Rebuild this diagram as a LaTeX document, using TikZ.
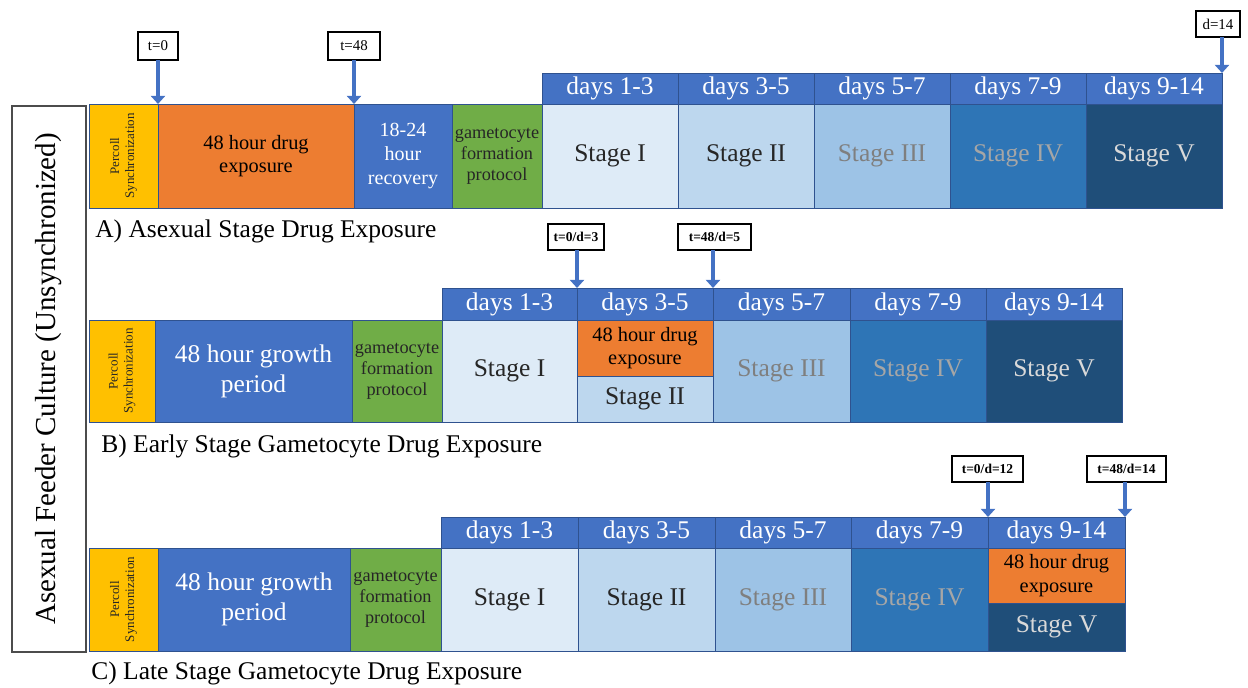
\documentclass[tikz,border=0pt]{standalone}
\usepackage{fontspec}
\setmainfont{Liberation Serif}
\usetikzlibrary{arrows.meta}
\definecolor{gold}{HTML}{FFC000}
\definecolor{drug}{HTML}{ED7D31}
\definecolor{blu}{HTML}{4472C4}
\definecolor{grn}{HTML}{70AD47}
\definecolor{stI}{HTML}{DEEBF7}
\definecolor{stII}{HTML}{BDD7EE}
\definecolor{stIII}{HTML}{9DC3E6}
\definecolor{stIV}{HTML}{2E75B6}
\definecolor{stV}{HTML}{1F4E79}
\definecolor{edge}{HTML}{2F528F}
\definecolor{txtdk}{HTML}{262626}
\definecolor{txtIII}{HTML}{7F7F7F}
\definecolor{txtIV}{HTML}{A6A6A6}
\definecolor{txtV}{HTML}{D9D9D9}

% box from its two corners (pixel units)
\newcommand{\cellat}[7]{%
  \node[cell, #6, minimum width={(#4-#2)*0.02cm}, minimum height={(#5-#3)*0.02cm}]
    (#1) at ({(#2+#4)/2},{(#3+#5)/2}) {#7};}

\tikzset{
  cell/.style={draw=edge, line width=0.5pt, inner sep=0pt, outer sep=0pt, align=center},
  big/.style={font=\fontsize{14.5}{17}\selectfont},
  head/.style={fill=blu, text=white, big},
  percoll/.style={fill=gold},
  perctxt/.style={rotate=90, align=center, text=txtdk, font=\fontsize{7.4}{8.5}\selectfont},
  drugbox/.style={fill=drug, text=black, font=\fontsize{11.6}{13.4}\selectfont},
  growbox/.style={fill=blu, text=white, font=\fontsize{14.5}{17}\selectfont},
  recbox/.style={fill=blu, text=white, font=\fontsize{11.4}{13.6}\selectfont},
  gambox/.style={fill=grn, text=txtdk, font=\fontsize{10.4}{12}\selectfont},
  tag/.style={cell, draw=black, line width=0.7pt, fill=white, font=\fontsize{8.5}{10}\selectfont},
  tagb/.style={tag, font=\fontsize{7.7}{9}\selectfont\bfseries},
  arr/.style={draw=blu, line width=2.6pt, -{Triangle[width=8pt,length=4.6pt]}},
  caption/.style={anchor=west, inner sep=0pt, font=\fontsize{14.5}{17}\selectfont}
}

\begin{document}
\begin{tikzpicture}[x=0.02cm, y=-0.02cm]
  \useasboundingbox (0,0) rectangle (1248,688);

  % feeder culture
  \node[cell, draw=black!70, line width=0.7pt, rotate=90, minimum width=546*0.02cm,
    minimum height=74*0.02cm, font=\fontsize{16.5}{18}\selectfont] (feed) at (49,379)
    {Asexual Feeder Culture (Unsynchronized)};

  % A) asexual stage
  \cellat{pA}{89}{104}{158}{208}{percoll}{}
  \node[perctxt] at (pA) {Percoll\\Synchronization};
  \cellat{drugA}{158}{104}{354}{208}{drugbox}{48 hour drug\\exposure}
  \cellat{recA}{354}{104}{452}{208}{recbox}{18-24\\hour\\recovery}
  \cellat{gamA}{452}{104}{542}{208}{gambox}{gametocyte\\formation\\protocol}
  \foreach \i/\xa/\xb/\d/\c/\tc/\s in {1/542/678/1-3/stI/txtdk/I, 2/678/814/3-5/stII/txtdk/II,
      3/814/950/5-7/stIII/txtIII/III, 4/950/1086/7-9/stIV/txtIV/IV, 5/1086/1222/9-14/stV/txtV/V} {
    \cellat{dA\i}{\xa}{73}{\xb}{104}{head}{days \d}
    \cellat{sA\i}{\xa}{104}{\xb}{208}{fill=\c, text=\tc, big}{Stage \s}
  }
  \cellat{tA0}{138}{32}{178}{60}{tag}{t=0}
  \cellat{tA48}{328}{32}{380}{60}{tag}{t=48}
  \cellat{tA14}{1196}{11}{1240}{37}{tag}{d=14}
  \draw[arr] (tA0.south -| pA.north east) -- (pA.north east);
  \draw[arr] (tA48.south -| drugA.north east) -- (drugA.north east);
  \draw[arr] (tA14.south -| dA5.north east) -- (dA5.north east);
  \node[caption] (capA) at (95,231) {A) Asexual Stage Drug Exposure};

  % B) early stage gametocytes
  \cellat{pB}{89}{320}{155}{422}{percoll}{}
  \node[perctxt] at (pB) {Percoll\\Synchronization};
  \cellat{growB}{155}{320}{352}{422}{growbox}{48 hour growth\\period}
  \cellat{gamB}{352}{320}{442}{422}{gambox}{gametocyte\\formation\\protocol}
  \foreach \i/\xa/\xb/\d in {1/442/577/1-3, 2/577/713/3-5, 3/713/850/5-7, 4/850/986/7-9, 5/986/1122/9-14} {
    \cellat{dB\i}{\xa}{288}{\xb}{320}{head}{days \d}
  }
  \cellat{sB1}{442}{320}{577}{422}{fill=stI, text=txtdk, big}{Stage I}
  \cellat{drugB}{577}{320}{713}{376}{drugbox}{48 hour drug\\exposure}
  \cellat{sB2}{577}{376}{713}{422}{fill=stII, text=txtdk, big}{Stage II}
  \cellat{sB3}{713}{320}{850}{422}{fill=stIII, text=txtIII, big}{Stage III}
  \cellat{sB4}{850}{320}{986}{422}{fill=stIV, text=txtIV, big}{Stage IV}
  \cellat{sB5}{986}{320}{1122}{422}{fill=stV, text=txtV, big}{Stage V}
  \cellat{tB0}{548}{224}{604}{250}{tagb}{t=0/d=3}
  \cellat{tB48}{678}{224}{751}{250}{tagb}{t=48/d=5}
  \draw[arr] (tB0.south -| dB1.north east) -- (dB1.north east);
  \draw[arr] (tB48.south -| dB2.north east) -- (dB2.north east);
  \node[caption] (capB) at (101,446) {B) Early Stage Gametocyte Drug Exposure};

  % C) late stage gametocytes
  \cellat{pC}{89}{548}{158}{651}{percoll}{}
  \node[perctxt] at (pC) {Percoll\\Synchronization};
  \cellat{growC}{158}{548}{350}{651}{growbox}{48 hour growth\\period}
  \cellat{gamC}{350}{548}{441}{651}{gambox}{gametocyte\\formation\\protocol}
  \foreach \i/\xa/\xb/\d in {1/441/578/1-3, 2/578/715/3-5, 3/715/851/5-7, 4/851/988/7-9, 5/988/1125/9-14} {
    \cellat{dC\i}{\xa}{517}{\xb}{548}{head}{days \d}
  }
  \cellat{sC1}{441}{548}{578}{651}{fill=stI, text=txtdk, big}{Stage I}
  \cellat{sC2}{578}{548}{715}{651}{fill=stII, text=txtdk, big}{Stage II}
  \cellat{sC3}{715}{548}{851}{651}{fill=stIII, text=txtIII, big}{Stage III}
  \cellat{sC4}{851}{548}{988}{651}{fill=stIV, text=txtIV, big}{Stage IV}
  \cellat{drugC}{988}{548}{1125}{603}{drugbox}{48 hour drug\\exposure}
  \cellat{sC5}{988}{603}{1125}{651}{fill=stV, text=txtV, big}{Stage V}
  \cellat{tC0}{952}{456}{1023}{482}{tagb}{t=0/d=12}
  \cellat{tC48}{1087}{456}{1166}{482}{tagb}{t=48/d=14}
  \draw[arr] (tC0.south -| dC4.north east) -- (dC4.north east);
  \draw[arr] (tC48.south -| dC5.north east) -- (dC5.north east);
  \node[caption] (capC) at (91,673) {C) Late Stage Gametocyte Drug Exposure};
\end{tikzpicture}
\end{document}
